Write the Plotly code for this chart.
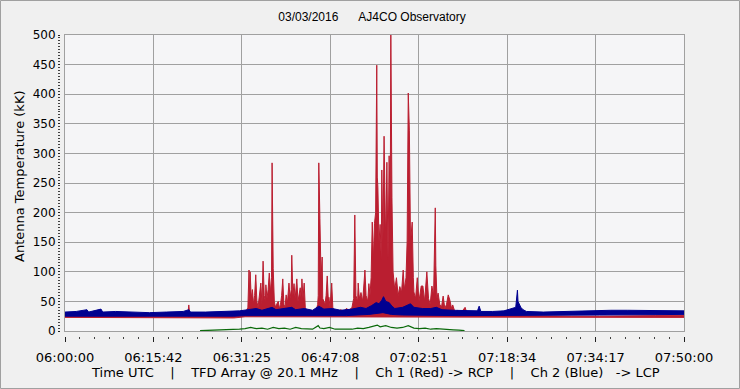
import plotly.graph_objects as go

# ---------------- data (time in minutes after 06:00:00 UTC, values in kK) ----------------
tick_labels = ["06:00:00", "06:15:42", "06:31:25", "06:47:08",
               "07:02:51", "07:18:34", "07:34:17", "07:50:00"]
y_ticks = [0, 50, 100, 150, 200, 250, 300, 350, 400, 450, 500]

# Ch 1 (Red, RCP) upper envelope
red_hi_t = [0, 3, 6, 9, 12, 15, 18, 21.8, 22.0, 22.2, 25, 28, 30, 31.5, 32.3,
            32.5, 32.7, 32.8, 32.9, 33.1, 33.3, 33.5, 33.7, 33.9, 34.1, 34.3, 34.5, 34.8, 35.0,
            35.2, 35.4, 35.6, 35.7, 35.9, 36.1, 36.3, 36.5, 36.7, 36.8, 36.9, 37.0, 37.2, 37.4,
            37.6, 37.9, 38.1, 38.3, 38.5, 38.7, 38.9, 39.1, 39.3, 39.5, 39.8, 40.0, 40.2, 40.3,
            40.5, 40.7, 40.9, 41.2, 41.4, 41.6, 41.8, 42.0, 42.1, 42.3, 42.5, 42.7, 43.0, 43.4,
            43.8, 44.2, 44.6, 44.9, 45.0, 45.1, 45.2, 45.3, 45.5, 45.7, 45.8, 46.0, 46.2, 46.4,
            46.6, 46.8, 46.9, 47.1, 47.4, 47.6, 48.0, 48.5, 49.0, 49.5, 50.0, 50.5, 51.0, 51.3,
            51.5, 51.7, 52.0, 52.1, 52.3, 52.6, 52.9, 53.1, 53.3, 53.5, 53.8, 54.0, 54.2, 54.4,
            54.6, 54.8, 55.0, 55.2, 55.3, 55.4, 55.5, 55.6, 55.8, 56.0, 56.2, 56.3, 56.5, 56.7,
            56.9, 57.0, 57.2, 57.4, 57.6, 57.8, 57.9, 58.0, 58.1, 58.3, 58.6, 58.9, 59.2, 59.5,
            59.8, 60.1, 60.3, 60.6, 60.8, 61.0, 61.1, 61.2, 61.4, 61.7, 61.9, 62.0, 62.3, 62.6,
            62.9, 63.3, 63.6, 63.9, 64.3, 64.6, 64.9, 65.2, 65.5, 65.8, 65.9, 66.1, 66.3, 66.6,
            66.9, 67.2, 67.5, 67.8, 68.1, 68.4, 68.7, 68.9, 69.3, 69.8, 70.3, 71.1, 71.5, 72.5,
            73, 76, 80, 80.4, 81, 85, 90, 95, 100, 105, 110]
red_hi_v = [27, 27, 26, 27, 26, 25, 25, 25, 44, 25, 25, 26, 27, 30, 35,
            40, 103, 60, 100, 55, 70, 45, 60, 95, 50, 40, 55, 81, 45,
            118, 60, 50, 78, 55, 70, 98, 65, 90, 284, 120, 106, 50, 40,
            45, 50, 38, 45, 60, 88, 45, 40, 61, 45, 81, 55, 70, 128,
            60, 80, 55, 88, 50, 60, 73, 50, 88, 55, 81, 40, 33, 36,
            32, 35, 33, 45, 60, 284, 200, 190, 90, 125, 55, 50, 45, 60,
            93, 50, 57, 40, 81, 38, 35, 32, 36, 33, 38, 35, 40, 55,
            196, 60, 50, 81, 55, 65, 50, 70, 103, 60, 50, 80, 60, 90,
            184, 120, 182, 200, 302, 449, 260, 243, 150, 180, 120, 272, 150, 329,
            200, 150, 285, 120, 296, 200, 510, 226, 226, 100, 70, 90, 60, 75,
            65, 103, 70, 90, 152, 402, 345, 338, 150, 184, 90, 66, 55, 90,
            50, 76, 76, 50, 100, 55, 45, 76, 60, 208, 110, 55, 64, 45,
            40, 59, 38, 45, 61, 52, 38, 44, 32, 35, 30, 40, 28, 30,
            27, 26, 27, 30, 26, 25, 25, 25, 26, 26, 26]
# Ch 1 (Red) lower envelope
red_lo_t = [0, 15, 30, 32, 72, 74, 110]
red_lo_v = [23, 22, 22, 24, 24, 23, 23]

# Ch 2 (Blue, LCP) upper envelope
blue_hi_t = [0, 2, 3.9, 4.2, 6.4, 6.7, 9, 12, 15, 18, 21, 22, 22.3, 25, 28, 31, 32.5,
             34, 35, 36.8, 37.5, 39, 40.3, 41, 42.5, 44, 45.1, 46, 47.5, 49, 51, 52.5,
             53.5, 54.5, 55.3, 55.8, 56.3, 56.6, 57, 57.6, 58.1, 58.6, 60, 61.4, 62, 63.5,
             65, 66, 67, 69, 71, 73.3, 73.6, 73.9, 76, 78, 80.1, 80.3, 80.4, 80.5, 80.7,
             81, 81.4, 82, 85, 88, 91, 94, 97, 100, 103, 106, 108, 110]
blue_hi_v = [32, 33, 36, 32, 37, 32, 33, 32, 31, 32, 33, 36, 32, 32, 33, 34, 36,
             38, 35, 40, 36, 38, 40, 36, 38, 35, 42, 37, 38, 35, 37, 40,
             38, 43, 48, 46, 52, 58, 50, 48, 42, 38, 40, 46, 40, 38,
             38, 40, 36, 35, 34, 34, 42, 33, 33, 34, 40, 54, 69, 50, 46,
             40, 36, 33, 32, 33, 34, 34, 35, 35, 35, 35, 34, 34]
# Ch 2 (Blue) lower envelope
blue_lo_t = [0, 10, 20, 30, 32, 40, 50, 54, 56.5, 58, 60, 70, 80, 81, 85, 95, 110]
blue_lo_v = [25, 25, 24, 25, 26, 26, 26, 28, 31, 28, 27, 26, 26, 27, 26, 27, 28]

# Green channel
green_t = [24, 26, 28, 30, 31, 32, 33, 34, 35, 36, 37, 38, 39, 40, 41, 42, 43, 44, 45,
           45.3, 46, 47, 48, 49, 50, 51, 52, 53, 54, 55, 55.5, 56, 57, 58, 59, 60, 61,
           62, 63, 64, 65, 66, 67, 68, 69, 70, 71]
green_v = [0.5, 1, 1.5, 2, 3, 4, 6, 4, 5, 3, 6, 4, 5, 3, 6, 4, 3, 3, 9,
           5, 4, 6, 3, 3, 2, 3, 5, 4, 6, 8, 10, 7, 9, 6, 5, 6, 9,
           5, 4, 5, 3, 4, 3, 2, 2, 1.5, 0.5]

# ---------------- figure ----------------
RED = "#BA1E30"
BLUE = "#000090"
GREEN = "#0B6A0B"
GRID = "#A0A0A0"
FONT = "DejaVu Sans"

T_MAX = 110
major_x = [i * T_MAX / 7 for i in range(8)]

fig = go.Figure()
fig.add_trace(go.Scatter(x=red_lo_t, y=red_lo_v, mode="lines",
                         line=dict(color=RED, width=1), hoverinfo="skip"))
fig.add_trace(go.Scatter(x=red_hi_t, y=red_hi_v, mode="lines",
                         line=dict(color=RED, width=1), fill="tonexty",
                         fillcolor=RED, hoverinfo="skip"))
fig.add_trace(go.Scatter(x=blue_lo_t, y=blue_lo_v, mode="lines",
                         line=dict(color=BLUE, width=1), hoverinfo="skip"))
fig.add_trace(go.Scatter(x=blue_hi_t, y=blue_hi_v, mode="lines",
                         line=dict(color=BLUE, width=1), fill="tonexty",
                         fillcolor=BLUE, hoverinfo="skip"))
fig.add_trace(go.Scatter(x=green_t, y=green_v, mode="lines",
                         line=dict(color=GREEN, width=1.2), hoverinfo="skip"))
# empty trace so that the offset tick axes (x2 / y2) are drawn
fig.add_trace(go.Scatter(x=[None], y=[None], mode="lines", xaxis="x2", yaxis="y2",
                         hoverinfo="skip", showlegend=False))

L, R, T, B = 60, 56, 35, 53
W, H = 740, 389
pw, ph = W - L - R, H - T - B
xdom = [5 / pw, 1]
ydom = [5 / ph, 1]

SP4 = "\u00a0" * 4
fig.update_layout(
    width=W, height=H,
    margin=dict(l=L, r=R, t=T, b=B),
    paper_bgcolor="#F0F0F0",
    plot_bgcolor="#F5F5F7",
    showlegend=False,
    font=dict(family=FONT, size=12, color="#000000"),
    title=dict(text="03/03/2016" + "\u00a0" * 6 + "AJ4CO Observatory",
               x=0.5, xref="paper", xanchor="center",
               y=1 - 17 / H, yref="container", yanchor="middle",
               font=dict(family="Liberation Sans", size=12, color="#000000")),
    xaxis=dict(domain=xdom, range=[0, T_MAX], tickmode="array", tickvals=major_x,
               showticklabels=False, ticks="", showgrid=True, gridcolor=GRID,
               gridwidth=1, showline=True, linecolor=GRID, linewidth=1,
               mirror=True, zeroline=False),
    yaxis=dict(domain=ydom, range=[0, 500], tickmode="array", tickvals=y_ticks,
               showticklabels=False, ticks="", showgrid=True, gridcolor=GRID,
               gridwidth=1, showline=True, linecolor=GRID, linewidth=1,
               mirror=True, zeroline=False),
    xaxis2=dict(overlaying="x", anchor="free", position=0, domain=xdom,
                range=[0, T_MAX], tickmode="array", tickvals=major_x,
                ticktext=tick_labels, ticks="outside", ticklen=5, tickwidth=1,
                tickcolor="#202020", showgrid=False, showline=False, zeroline=False,
                ticklabelstandoff=4,
                tickfont=dict(family=FONT, size=13, color="#000000"),
                minor=dict(tickmode="linear", tick0=0, dtick=T_MAX / 42,
                           ticks="outside", ticklen=2, tickcolor="#404040",
                           showgrid=False)),
    yaxis2=dict(overlaying="y", anchor="free", position=0, side="left", domain=ydom,
                range=[0, 500], tickmode="array", tickvals=y_ticks,
                ticks="outside", ticklen=2, tickwidth=1, tickcolor="#202020",
                showgrid=False, showline=False, zeroline=False,
                tickfont=dict(family=FONT, size=12, color="#000000"),
                minor=dict(tickmode="linear", tick0=0, dtick=5, ticks="outside",
                           ticklen=2, tickcolor="#404040", showgrid=False)),
    annotations=[
        dict(text="Time UTC" + SP4 + "|" + SP4 + "TFD Array @ 20.1 MHz" + SP4 + "|" + SP4
                  + "Ch 1 (Red) -> RCP" + SP4 + "|" + SP4 + "Ch 2 (Blue)\u00a0\u00a0\u00a0-> LCP",
             xref="paper", yref="paper", x=0.5, y=0, xanchor="center",
             yanchor="middle", yshift=-36, xshift=3, showarrow=False,
             font=dict(family=FONT, size=13, color="#000000")),
        dict(text="Antenna Temperature (kK)", xref="paper", yref="paper",
             x=0, y=(H - B - 177) / ph, xshift=-41, textangle=-90,
             xanchor="center", yanchor="middle", showarrow=False,
             font=dict(family=FONT, size=13, color="#000000")),
    ],
    shapes=[dict(type="rect", xref="paper", yref="paper",
                 x0=(0.5 - L) / pw, x1=(W - 0.5 - L) / pw,
                 y0=(H - B - (H - 0.5)) / ph, y1=(H - B - 0.5) / ph,
                 line=dict(color="#A0A0A0", width=1), fillcolor="rgba(0,0,0,0)",
                 layer="above")],
)

fig.write_html("out.html", config={"displayModeBar": False},
               post_script="document.body.style.margin='0px';"
                           "document.body.style.overflow='hidden';")
